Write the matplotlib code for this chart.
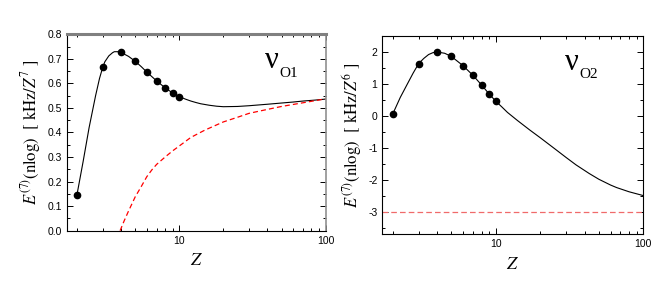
import matplotlib
matplotlib.use("Agg")
import matplotlib.pyplot as plt
from matplotlib.ticker import MultipleLocator, LogLocator, FixedLocator, NullFormatter

plt.rcParams["font.family"] = ["Liberation Sans", "DejaVu Sans"]
plt.rcParams["mathtext.fontset"] = "stix"

# points (nuclear charge Z)
z_pts = [2, 3, 4, 5, 6, 7, 8, 9, 10]
o1_pts = [0.147, 0.666, 0.726, 0.690, 0.646, 0.610, 0.582, 0.561, 0.546]
o2_pts = [0.06, 1.64, 2.00, 1.86, 1.57, 1.27, 0.97, 0.69, 0.46]

# fitted curves
o1_curve_z = [2, 2.2, 2.42, 2.68, 2.85, 3, 3.1, 3.3, 3.5, 3.6, 3.8, 4,
              4.5, 5, 5.5, 6, 7, 8, 9, 10, 11, 12, 13, 14, 16, 18, 20,
              25, 30, 40, 50, 60, 70, 85, 100]
o1_curve_v = [0.147, 0.28, 0.42, 0.55, 0.62, 0.666, 0.688, 0.712, 0.725,
              0.729, 0.729, 0.726, 0.710, 0.690, 0.668, 0.646, 0.610, 0.582,
              0.561, 0.546, 0.536, 0.528, 0.522, 0.517, 0.511, 0.507, 0.505,
              0.506, 0.509, 0.515, 0.520, 0.524, 0.528, 0.532, 0.536]

o1_asym_z = [3.94, 4.2, 4.5, 5, 5.5, 6, 6.5, 7, 8, 9, 10, 12, 15, 20, 25,
             30, 40, 50, 70, 100]
o1_asym_v = [0.0, 0.04, 0.08, 0.138, 0.18, 0.22, 0.248, 0.27, 0.30, 0.325,
             0.345, 0.38, 0.41, 0.443, 0.462, 0.478, 0.494, 0.506, 0.521,
             0.537]

o2_curve_z = [2, 2.25, 2.5, 2.75, 3, 3.25, 3.5, 3.75, 4, 4.5, 5, 6, 7, 8,
              9, 10, 11, 12, 14, 17, 20, 25, 30, 35, 43, 50, 60, 66, 80, 100]
o2_curve_v = [0.06, 0.58, 0.98, 1.34, 1.64, 1.80, 1.92, 1.98, 2.00, 1.96,
              1.86, 1.57, 1.27, 0.97, 0.69, 0.46, 0.28, 0.11, -0.14, -0.44,
              -0.68, -1.02, -1.30, -1.53, -1.80, -1.98, -2.16, -2.24, -2.37,
              -2.49]

o2_asym_z = [1.7, 100]
o2_asym_v = [-3.0, -3.0]

fig = plt.figure(figsize=(6.64, 2.88), dpi=100)
ax1 = fig.add_axes([0.1004, 0.199, 0.39, 0.682])
ax2 = fig.add_axes([0.5758, 0.1865, 0.393, 0.6885])


def style(ax):
    ax.set_xscale("log")
    ax.set_xlim(1.7, 100)
    ax.xaxis.set_major_locator(FixedLocator([10, 100]))
    ax.xaxis.set_minor_locator(LogLocator(base=10, subs=range(2, 10)))
    ax.xaxis.set_minor_formatter(NullFormatter())
    ax.set_xticklabels(["10", "100"])
    ax.tick_params(which="both", direction="in", top=True, right=True,
                   labelsize=7.5, width=0.7)
    ax.tick_params(which="major", length=4)
    ax.tick_params(which="minor", length=2.5)
    for s in ax.spines.values():
        s.set_linewidth(0.8)
    ax.set_xlabel("$Z$", fontsize=13, labelpad=5)


def label(ax, sub, x, y, dx, dy):
    ax.text(x, y, "ν", transform=ax.transAxes, fontsize=22,
            family="Liberation Serif", va="baseline")
    ax.text(x + dx, y + dy, sub, transform=ax.transAxes, fontsize=11,
            family="Liberation Serif", va="baseline")


style(ax1)
ax1.plot(o1_curve_z, o1_curve_v, color="black", lw=0.8)
ax1.plot(z_pts, o1_pts, "o", color="black", ms=4.5)
ax1.plot(o1_asym_z, o1_asym_v, color="red", lw=0.9, dashes=(4, 2.5))
ax1.set_ylim(0, 0.8)
ax1.yaxis.set_major_locator(MultipleLocator(0.1))
ax1.yaxis.set_minor_locator(MultipleLocator(0.05))
ax1.yaxis.set_major_formatter(lambda v, p: f"{v:.1f}")
ax1.spines["top"].set_color("#808080")
ax1.spines["top"].set_linewidth(2.2)
ax1.spines["right"].set_color("#909090")
ax1.spines["right"].set_linewidth(1.2)
ax1.set_ylabel("$E^{(7)}$(nlog)  [ kHz/$Z^7$ ]", fontsize=12,
               family="STIXGeneral", labelpad=3)
label(ax1, "O1", 0.765, 0.828, 0.056, -0.045)

style(ax2)
ax2.plot(o2_curve_z, o2_curve_v, color="black", lw=0.8)
ax2.plot(z_pts, o2_pts, "o", color="black", ms=4.5)
ax2.plot(o2_asym_z, o2_asym_v, color="#f06a6a", lw=0.9, dashes=(4.5, 2.5))
ax2.set_ylim(-3.7, 2.5)
ax2.yaxis.set_major_locator(MultipleLocator(1))
ax2.yaxis.set_minor_locator(MultipleLocator(0.5))
ax2.yaxis.set_major_formatter(lambda v, p: f"{v:.0f}")
ax2.set_ylabel("$E^{(7)}$(nlog)  [ kHz/$Z^6$ ]", fontsize=12,
               family="STIXGeneral", labelpad=3)
label(ax2, "O2", 0.70, 0.829, 0.056, -0.04)

fig.savefig("out.png", dpi=100)
